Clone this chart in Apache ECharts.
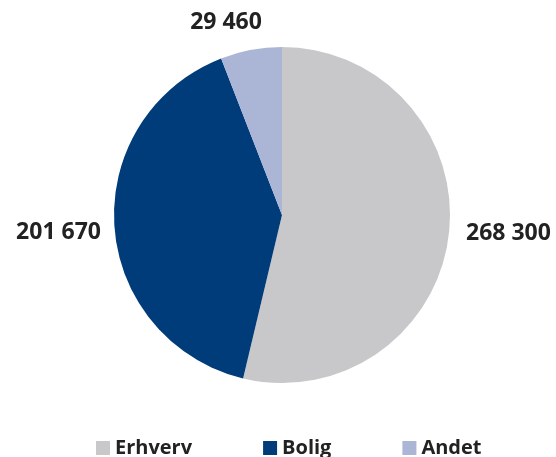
<!DOCTYPE html>
<html>
<head>
<meta charset="utf-8">
<script src="https://cdn.jsdelivr.net/npm/echarts@6/dist/echarts.min.js"></script>
<style>
  html, body { margin: 0; padding: 0; background: #fff; }
  #chart { width: 556px; height: 457px; }
</style>
</head>
<body>
<div id="chart"></div>
<script>
// Lending split by segment
const categories = ['Erhverv', 'Bolig', 'Andet'];
const values = [268300, 201670, 29460];
const colors = ['#c8c8ca', '#003b7a', '#abb5d5'];

// Label anchor per slice (x, y, align)
const labelSpots = [
  { x: 466, y: 233, align: 'left' },
  { x: 101, y: 232, align: 'right' },
  { x: 226, y: 22, align: 'center' }
];

function fmt(v) {
  return String(v).replace(/\B(?=(\d{3})+(?!\d))/g, ' ');
}

const chart = echarts.init(document.getElementById('chart'), null, { renderer: 'canvas' });
const font = '"Open Sans", "Noto Sans", sans-serif';

chart.setOption({
  animation: false,
  color: colors,
  legend: {
    data: categories,
    bottom: -6,
    left: 91,
    itemWidth: 14,
    itemHeight: 14,
    itemGap: 71,
    icon: 'rect',
    textStyle: { fontFamily: font, fontWeight: 'bold', fontSize: 20, color: '#222' }
  },
  series: [{
    type: 'pie',
    center: [282, 215],
    radius: [0, 168],
    startAngle: 90,
    clockwise: true,
    silent: true,
    data: categories.map((c, i) => ({ name: c, value: values[i] })),
    label: {
      show: true,
      overflow: 'none',
      formatter: p => fmt(p.value),
      fontFamily: font,
      fontWeight: 'bold',
      fontSize: 23,
      color: '#222'
    },
    labelLine: { show: false },
    labelLayout: p => {
      const s = labelSpots[p.dataIndex];
      return { x: s.x, y: s.y, align: s.align, verticalAlign: 'middle' };
    }
  }]
});
</script>
</body>
</html>
